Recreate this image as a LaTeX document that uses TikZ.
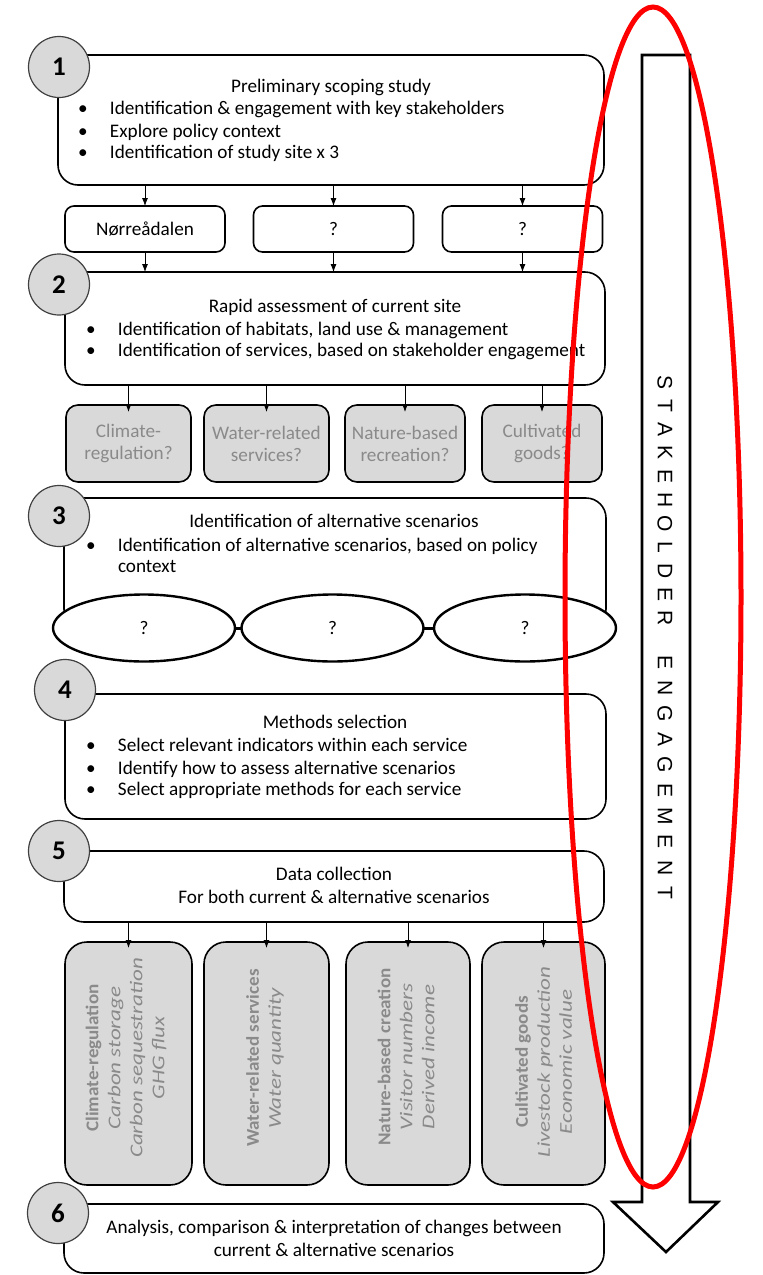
\documentclass[tikz,border=0pt]{standalone}
\usepackage{fontspec}
\setmainfont{Carlito}
\newfontfamily\engfont{Liberation Sans}
\usetikzlibrary{arrows.meta,shapes.geometric}
\definecolor{boxgray}{HTML}{D9D9D9}
\definecolor{txtgray}{HTML}{8A8A8A}
\newcommand{\bulitem}{\makebox[32pt][l]{\textbullet}}
\newcommand{\svhead}[1]{\scalebox{1.06}[1]{\textbf{#1}}}
\newcommand{\svind}[1]{\scalebox{1.28}[1]{\textit{#1}}}

\begin{document}
\begin{tikzpicture}[x=1pt,y=-1pt,
	every node/.style={font=\fontsize{19.2}{22}\selectfont,inner sep=0,outer sep=0},
	bigbox/.style={draw,line width=1.6pt,rounded corners=20pt,fill=white},
	sitebox/.style={draw,line width=1.6pt,rounded corners=9pt,fill=white,minimum width=160,minimum height=46},
	svcbox/.style={draw,line width=1.6pt,rounded corners=12pt,fill=boxgray,minimum height=77,text=txtgray,align=center},
	tallbox/.style={draw,line width=1.6pt,rounded corners=22pt,fill=boxgray,minimum height=243},
	tallin/.style={rotate=90,align=center,text=txtgray,font=\fontsize{18}{22}\selectfont},
	scen/.style={draw,ellipse,line width=2.4pt,fill=white,minimum width=182,minimum height=67},
	stepnum/.style={draw=black!75,circle,line width=1.2pt,fill=boxgray,minimum size=61,font=\fontsize{27}{30}\selectfont\bfseries},
	line/.style={anchor=west,text height=12pt,text depth=4pt},
	ttl/.style={text height=12pt,text depth=4pt},
	engl/.style={rotate=-90,text depth=0pt,font=\engfont\fontsize{21}{21}\selectfont},
	flow/.style={-{Latex[length=8pt,width=6pt]},line width=0.8pt}]
	\useasboundingbox (0,0) rectangle (763,1275);
	\node[bigbox,minimum width=546,minimum height=130] (b1) at (331,120) {};
	\node[sitebox] (s1) at (145,229) {Nørreådalen};
	\node[sitebox] (s2) at (333.5,229) {?};
	\node[sitebox] (s3) at (522.5,229) {?};
	\node[bigbox,minimum width=540,minimum height=113] (b2) at (335,328.5) {};
	\node[svcbox,minimum width=125] (g1) at (128.5,443.5) {Climate-\\regulation?};
	\node[svcbox,minimum width=125] (g2) at (266.5,443.5) {Water-related\\services?};
	\node[svcbox,minimum width=120] (g3) at (405,443.5) {Nature-based\\recreation?};
	\node[svcbox,minimum width=120] (g4) at (542,443.5) {Cultivated\\goods?};
	\node[bigbox,minimum width=542,minimum height=131] (b3) at (335,563.5) {};
	\node[scen] (e1) at (144,628) {?};
	\node[scen] (e2) at (332.5,628) {?};
	\node[scen] (e3) at (525,628) {?};
	\node[bigbox,minimum width=541,minimum height=125] (b4) at (335.5,756.5) {};
	\node[bigbox,minimum width=540,minimum height=71] (b5) at (334,886.5) {};
	\node[tallbox,minimum width=127] (t1) at (128.5,1063.5) {};
	\node[tallbox,minimum width=125] (t2) at (266.5,1063.5) {};
	\node[tallbox,minimum width=124] (t3) at (408,1063.5) {};
	\node[tallbox,minimum width=123] (t4) at (543.5,1063.5) {};
	\node[bigbox,minimum width=540,minimum height=69] (b6) at (334,1238.5) {};

	\node[ttl] (b1t) at (331,88) {Preliminary scoping study};
	\node[line] (b1a) at (78,110) {\bulitem Identification \& engagement with key stakeholders};
	\node[line] (b1b) at (78,133) {\bulitem Explore policy context};
	\node[line] (b1c) at (78,154) {\bulitem Identification of study site x 3};
	\node[ttl] (b2t) at (335,308) {Rapid assessment of current site};
	\node[line] (b2a) at (86,331) {\bulitem Identification of habitats, land use \& management};
	\node[line] (b2b) at (86,352) {\bulitem Identification of services, based on stakeholder engagement};
	\node[ttl] (b3t) at (334,523) {Identification of alternative scenarios};
	\node[line] (b3a) at (86,547) {\bulitem Identification of alternative scenarios, based on policy};
	\node[line] (b3b) at (118,568) {context};
	\node[ttl] (b4t) at (335,724) {Methods selection};
	\node[line] (b4a) at (86,747) {\bulitem Select relevant indicators within each service};
	\node[line] (b4b) at (86,770) {\bulitem Identify how to assess alternative scenarios};
	\node[line] (b4c) at (86,791) {\bulitem Select appropriate methods for each service};
	\node[ttl] (b5t) at (334,876) {Data collection};
	\node[ttl] (b5a) at (334,899) {For both current \& alternative scenarios};
	\node[ttl] (b6t) at (334,1229) {Analysis, comparison \& interpretation of changes between};
	\node[ttl] (b6a) at (334,1252) {current \& alternative scenarios};
	\node[tallin] (t1t) at (126,1058) {\svhead{Climate-regulation}\\\svind{Carbon storage}\\\svind{Carbon sequestration}\\\svind{GHG flux}};
	\node[tallin] (t2t) at (265,1058) {\svhead{Water-related services}\\\svind{Water quantity}};
	\node[tallin] (t3t) at (406,1057) {\svhead{Nature-based creation}\\\svind{Visitor numbers}\\\svind{Derived income}};
	\node[tallin] (t4t) at (543.5,1062) {\svhead{Cultivated goods}\\\svind{Livestock production}\\\svind{Economic value}};

	\node[stepnum] (1) at (59,67) {1};
	\node[stepnum] (2) at (59,284.5) {2};
	\node[stepnum] (3) at (59,516) {3};
	\node[stepnum] (4) at (65,690) {4};
	\node[stepnum] (5) at (59,851) {5};
	\node[stepnum] (6) at (58,1213) {6};

	\draw[flow] (b1.south -| s1.north) -- (s1.north);
	\draw[flow] (b1.south -| s2.north) -- (s2.north);
	\draw[flow] (b1.south -| s3.north) -- (s3.north);
	\draw[flow] (s1.south) -- (s1.south |- b2.north);
	\draw[flow] (s2.south) -- (s2.south |- b2.north);
	\draw[flow] (s3.south) -- (s3.south |- b2.north);
	\draw[flow,shorten >=-7pt] (b2.south -| g1.north) -- (g1.north);
	\draw[flow,shorten >=-7pt] (b2.south -| g2.north) -- (g2.north);
	\draw[flow,shorten >=-7pt] (b2.south -| g3.north) -- (g3.north);
	\draw[flow,shorten >=-7pt] (b2.south -| g4.north) -- (g4.north);
	\draw[line width=2.4pt] (e1) -- (e2);
	\draw[line width=2.4pt] (e2) -- (e3);
	\draw[flow,shorten >=-6pt] (b5.south -| t1.north) -- (t1.north);
	\draw[flow,shorten >=-6pt] (b5.south -| t2.north) -- (t2.north);
	\draw[flow,shorten >=-6pt] (b5.south -| t3.north) -- (t3.north);
	\draw[flow,shorten >=-6pt] (b5.south -| t4.north) -- (t4.north);

	\draw[line width=2.6pt] (642,55) -- (690,55) -- (690,1202) -- (718,1202) -- (666,1252) -- (613,1202) -- (642,1202) -- cycle;
	\foreach \ch [count=\i from 0] in {S,T,A,K,E,H,O,L,D,E,R}
		\node[engl] (sk\i) at (665,{382+23.6*\i}) {\ch};
	\foreach \ch [count=\i from 0] in {E,N,G,A,G,E,M,E,N,T}
		\node[engl] (en\i) at (665,{662+25.7*\i}) {\ch};

	\draw[red,line width=5pt] (653,597) ellipse [x radius=88, y radius=590];
\end{tikzpicture}
\end{document}
